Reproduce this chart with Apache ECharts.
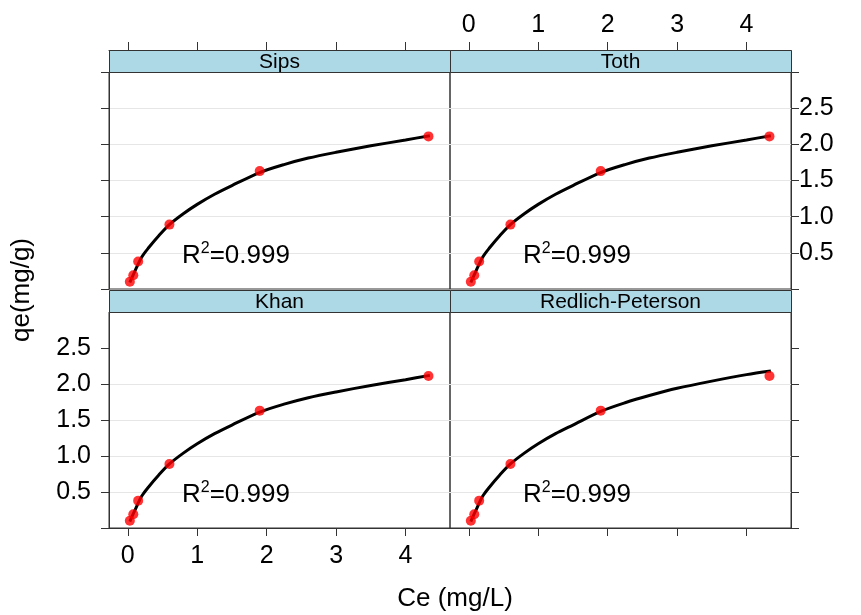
<!DOCTYPE html>
<html><head><meta charset="utf-8">
<script src="https://cdn.jsdelivr.net/npm/echarts@6/dist/echarts.min.js"></script>
<style>html,body{margin:0;padding:0;background:#fff}#c{width:861px;height:615px}</style>
</head><body><div id="c"></div><script>
// ---- data ----
const panelNames = ['Sips', 'Toth', 'Khan', 'Redlich-Peterson'];
const r2Values = ['0.999', '0.999', '0.999', '0.999'];
const xTicks = [0, 1, 2, 3, 4];
const yTicks = [0.5, 1.0, 1.5, 2.0, 2.5];
const ceObs = [0.03, 0.08, 0.15, 0.60, 1.90, 4.33];
const qeObs = [0.10, 0.19, 0.38, 0.89, 1.63, 2.11];
const ceFit = [0.03, 0.1, 0.2, 0.3, 0.45, 0.6, 0.8, 1.0, 1.25, 1.5, 1.9, 2.25, 2.6, 3.0, 3.5, 4.0, 4.35];
const qeSips = [0.09, 0.24, 0.44, 0.57, 0.74, 0.89, 1.04, 1.17, 1.31, 1.43, 1.61, 1.72, 1.81, 1.89, 1.98, 2.06, 2.12];
const qeToth = [0.09, 0.24, 0.44, 0.57, 0.74, 0.89, 1.04, 1.17, 1.31, 1.43, 1.61, 1.72, 1.81, 1.89, 1.98, 2.06, 2.12];
const qeKhan = [0.09, 0.24, 0.44, 0.57, 0.74, 0.89, 1.04, 1.17, 1.31, 1.43, 1.61, 1.72, 1.81, 1.89, 1.98, 2.06, 2.12];
const qeRP   = [0.09, 0.24, 0.44, 0.57, 0.74, 0.89, 1.04, 1.17, 1.31, 1.43, 1.62, 1.74, 1.84, 1.94, 2.04, 2.13, 2.18];
const fits = [qeSips, qeToth, qeKhan, qeRP];

// ---- layout ----
const FONT = '"Liberation Sans", Arial, sans-serif';
const G = [
  {left: 109, top: 72, width: 341, height: 217},
  {left: 450, top: 72, width: 341, height: 217},
  {left: 109, top: 312, width: 341, height: 216},
  {left: 450, top: 312, width: 341, height: 216}
];
const AX = '#333';
const zip = (a, b) => a.map((v, i) => [v, b[i]]);

const grid = G.map(g => Object.assign({show: true, borderColor: AX, borderWidth: 1, backgroundColor: 'transparent'}, g));

const xAxis = G.map((g, i) => ({
  type: 'value', gridIndex: i, min: -0.27, max: 4.64,
  position: i < 2 ? 'top' : 'bottom', offset: i < 2 ? 22 : 0,
  axisLine: {show: true, onZero: false, lineStyle: {color: AX, width: 1}},
  axisTick: {show: true, customValues: xTicks, length: 8, inside: false, lineStyle: {color: AX, width: 1}},
  axisLabel: {show: i === 1 || i === 2, customValues: xTicks, fontSize: 25, fontFamily: FONT, color: '#000',
              margin: i < 2 ? 12 : 16},
  splitLine: {show: false}
}));

const yAxis = G.map((g, i) => ({
  type: 'value', gridIndex: i, min: 0, max: 3, interval: 0.5,
  position: (i === 0 || i === 2) ? 'left' : 'right',
  axisLine: {show: true, onZero: false, lineStyle: {color: AX, width: 1}},
  axisTick: {show: true, customValues: i < 2 ? [0].concat(yTicks, [3]) : [0].concat(yTicks),
             length: 8, inside: false, lineStyle: {color: AX, width: 1}},
  axisLabel: {show: i === 1 || i === 2, customValues: yTicks, fontSize: 25, fontFamily: FONT, color: '#000',
              margin: i === 2 ? 18 : 8, formatter: v => Number(v).toFixed(1)},
  splitLine: {show: true, showMinLine: false, showMaxLine: false, lineStyle: {color: '#e6e6e6', width: 1}}
}));

const series = [];
G.forEach((g, i) => {
  series.push({
    type: 'line', xAxisIndex: i, yAxisIndex: i, data: zip(ceFit, fits[i]),
    showSymbol: false, smooth: 0.3, silent: true,
    lineStyle: {color: '#000', width: 3}, z: 3
  });
  series.push({
    type: 'scatter', xAxisIndex: i, yAxisIndex: i, data: zip(ceObs, qeObs),
    symbol: 'circle', symbolSize: 10, itemStyle: {color: '#ff0000'}, z: 4, silent: true
  });
});

const graphic = [];
G.forEach((g, i) => {
  const stripTop = g.top - 22;
  graphic.push({type: 'rect', shape: {x: g.left + 0.5, y: stripTop + 0.5, width: g.width, height: 22},
    style: {fill: '#ADD8E6', stroke: AX, lineWidth: 1}, z: 10});
  graphic.push({type: 'text', x: g.left + g.width / 2, y: stripTop + 12,
    style: {text: panelNames[i], font: '21px ' + FONT, fill: '#000', align: 'center', verticalAlign: 'middle'}, z: 11});
  graphic.push({type: 'text', x: g.left + 73, y: g.top + g.height - 33,
    style: {text: '{r|R}{s|2}{r|=' + r2Values[i] + '}', fill: '#000', align: 'left', verticalAlign: 'middle',
      rich: {
        r: {fontSize: 26, fontFamily: FONT, lineHeight: 30, fill: '#000'},
        s: {fontSize: 16, fontFamily: FONT, lineHeight: 16, verticalAlign: 'top', fill: '#000'}
      }}, z: 11});
});
graphic.push({type: 'text', x: 455, y: 599,
  style: {text: 'Ce (mg/L)', font: '26px ' + FONT, fill: '#000', align: 'center', verticalAlign: 'middle'}});
graphic.push({type: 'text', x: 22, y: 290, rotation: Math.PI / 2,
  style: {text: 'qe(mg/g)', font: '26px ' + FONT, fill: '#000', align: 'center', verticalAlign: 'middle'}});

const chart = echarts.init(document.getElementById('c'), null, {renderer: 'canvas'});
chart.setOption({animation: false, backgroundColor: '#fff', grid, xAxis, yAxis, series, graphic});
</script></body></html>
